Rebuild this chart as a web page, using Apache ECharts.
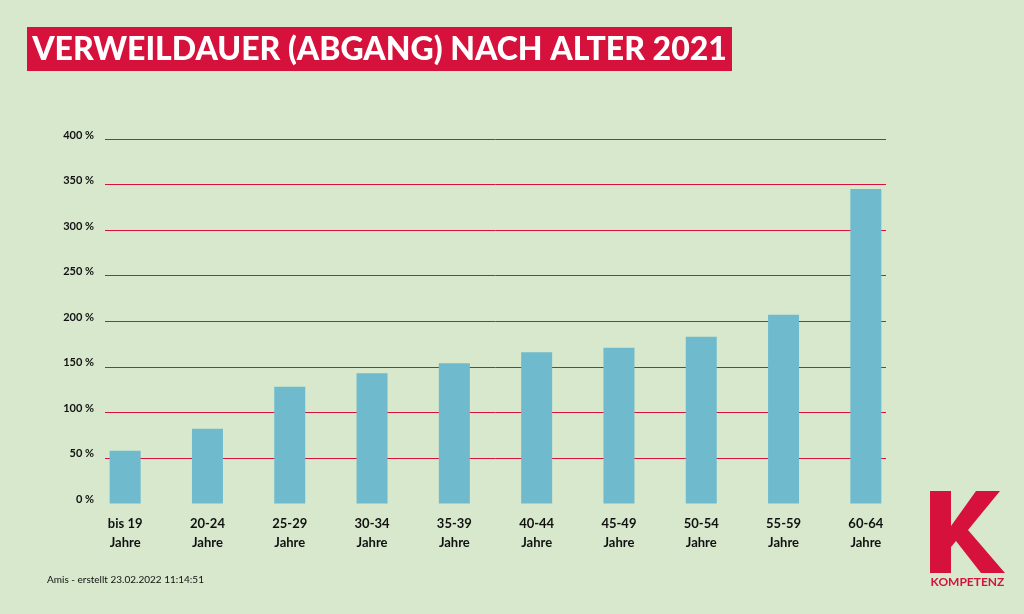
<!DOCTYPE html>
<html><head><meta charset="utf-8">
<script src="https://cdn.jsdelivr.net/npm/echarts@6/dist/echarts.min.js"></script>
<style>html,body{margin:0;padding:0;background:#d7e8cc;}#c{width:1024px;height:614px;}</style>
</head><body><div id="c"></div>
<script>
const categories = ['bis 19\nJahre','20-24\nJahre','25-29\nJahre','30-34\nJahre','35-39\nJahre','40-44\nJahre','45-49\nJahre','50-54\nJahre','55-59\nJahre','60-64\nJahre'];
const values = [58, 82, 128, 143, 154, 166, 171, 183, 207, 345];
const yTicks = [0, 50, 100, 150, 200, 250, 300, 350, 400];
const titleText = 'VERWEILDAUER (ABGANG) NACH ALTER 2021';
const footerText = 'Amis - erstellt 23.02.2022 11:14:51';

const RED = '#d6113b';
const chart = echarts.init(document.getElementById('c'), null, {renderer:'canvas'});
chart.setOption({
  backgroundColor: '#d7e8cc',
  animation: false,
  grid: [
    {left:105, right:138, top:139, bottom:110.5},
    {left:84, right:117, top:139, bottom:110.5}
  ],
  xAxis: [
    {gridIndex:0, type:'value', show:false, min:0, max:1},
    {gridIndex:1, type:'category', data:categories,
     axisLine:{show:false}, axisTick:{show:false},
     axisLabel:{margin:11, fontFamily:'Lato', fontWeight:'bold', fontSize:13, lineHeight:19, color:'#111'}}
  ],
  yAxis: [
    {gridIndex:0, type:'value', min:yTicks[0], max:yTicks[yTicks.length-1], interval:50,
     axisLine:{show:false}, axisTick:{show:false},
     splitLine:{show:true, showMinLine:false, lineStyle:{color:RED, width:1}},
     axisLabel:{margin:11, fontFamily:'Lato', fontWeight:'bold', fontSize:11, color:'#111',
       verticalAlign:'bottom', lineHeight:8, formatter: v => v + ' %'}},
    {gridIndex:1, type:'value', min:yTicks[0], max:yTicks[yTicks.length-1], show:false, splitLine:{show:false}}
  ],
  series: [{
    type:'bar', xAxisIndex:1, yAxisIndex:1, data:values, barWidth:31,
    itemStyle:{color:'#6fbbcd'}
  }],
  graphic: [
    {type:'rect', shape:{x:27, y:27, width:705, height:44}, style:{fill:RED}},
    {type:'text', style:{text:titleText, x:379.5, y:50, align:'center', verticalAlign:'middle',
      font:'900 32px Lato', fill:'#fff'}},
    {type:'text', style:{text:footerText, x:47, y:580, verticalAlign:'middle', font:'10px Lato', fill:'#111'}},
    {type:'polygon', shape:{points:[[930,491],[951,491],[951,526],[976,491],[1000,491],[968,530],[1005,573],[981,573],[956,541],[951,547],[951,573],[930,573]]}, style:{fill:RED}},
    {type:'text', style:{text:'KOMPETENZ', x:967.5, y:582, align:'center', verticalAlign:'middle', font:'bold 12px Lato', fill:RED}}
  ]
});
</script></body></html>
